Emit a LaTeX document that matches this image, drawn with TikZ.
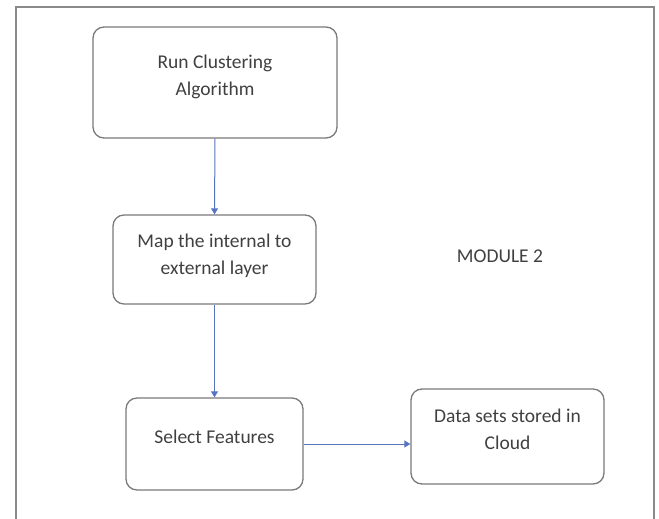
\documentclass[tikz,border=0pt]{standalone}
\usepackage{fontspec}
\setmainfont{Carlito}
\usetikzlibrary{arrows.meta}
\definecolor{boxgray}{HTML}{7A7A7A}
\definecolor{framegray}{HTML}{8A8A8A}
\definecolor{txtgray}{HTML}{404040}
\definecolor{arrowblue}{HTML}{5874C0}
\tikzset{
  flowbox/.style={draw=boxgray, line width=1.3pt, rounded corners=11pt, inner sep=0pt},
  flowtxt/.style={text=txtgray, font=\fontsize{19.5}{27}\selectfont, align=center, inner sep=0pt},
  flowarrow/.style={draw=arrowblue, line width=1pt, -{Triangle[width=7pt,length=6pt]}}
}
\begin{document}
\begin{tikzpicture}[x=1pt,y=-1pt]
\useasboundingbox (0,0) rectangle (659,519);
\draw[framegray, line width=1.3pt] (16,521) -- (16,7) -- (654,7) -- (654,521);
\node[flowbox, minimum width=244pt, minimum height=111pt] (run) at (215,82.5) {};
\node[flowtxt] (runt) at ([yshift=6pt]run.center) {Run Clustering\\Algorithm};
\node[flowbox, minimum width=203pt, minimum height=89pt] (map) at (214.5,259.5) {};
\node[flowtxt] (mapt) at ([yshift=3.5pt]map.center) {Map the internal to\\external layer};
\node[flowbox, minimum width=177pt, minimum height=92pt] (sel) at (214.5,444) {};
\node[flowtxt] (selt) at ([yshift=7pt]sel.center) {Select Features};
\node[flowbox, minimum width=193pt, minimum height=95pt] (data) at (507.5,436.5) {};
\node[flowtxt] (datat) at ([yshift=7pt]data.center) {Data sets stored in\\Cloud};
\node[flowtxt] (mod) at (500,256) {MODULE 2};
\draw[flowarrow] (run.south) -- (map.north);
\draw[flowarrow] (map.south) -- (sel.north);
\draw[flowarrow] (sel.east) -- (sel.east -| data.west);
\end{tikzpicture}
\end{document}
